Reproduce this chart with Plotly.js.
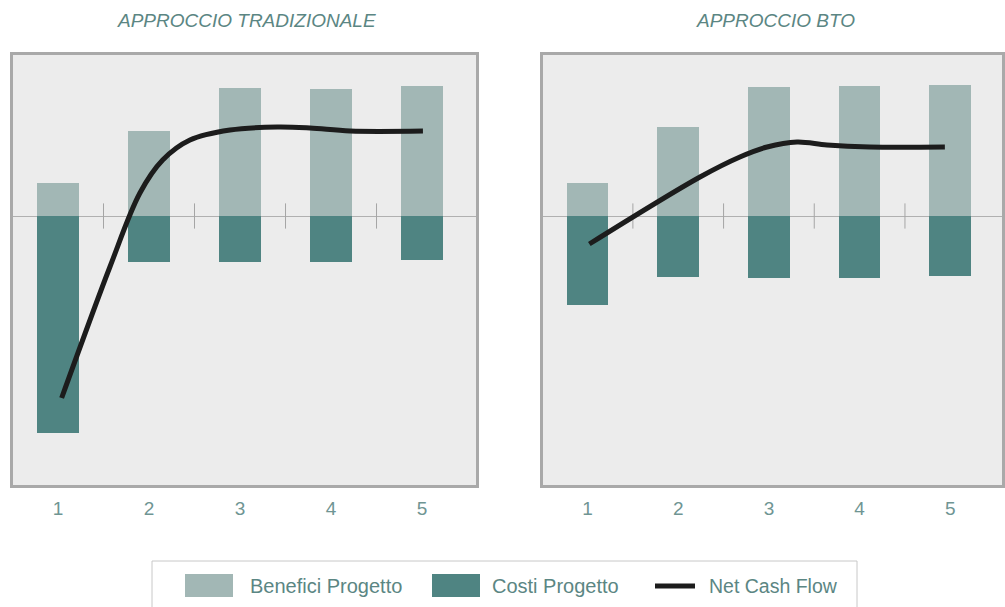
<!DOCTYPE html>
<html>
<head>
<meta charset="utf-8">
<script src="https://cdn.plot.ly/plotly-3.0.1.min.js"></script>
<style>
html,body{margin:0;padding:0;background:#fff;}
#chart{width:1005px;height:607px;}
</style>
</head>
<body>
<div id="chart"></div>
<script>
// ---- Data ----
var years = [1, 2, 3, 4, 5];
var tickLabels = ['1', '2', '3', '4', '5'];
var panelTitles = ['APPROCCIO TRADIZIONALE', 'APPROCCIO BTO'];
var seriesNames = ['Benefici Progetto', 'Costi Progetto', 'Net Cash Flow'];

var tradBenefici = [3.3, 8.5, 12.8, 12.7, 13.0];
var tradCosti = [-21.7, -4.6, -4.6, -4.6, -4.4];
var tradNetX = [1.04, 1.57, 1.90, 2.15, 2.45, 2.89, 3.41, 3.77, 4.21, 5.01];
var tradNetY = [-18.2, -5.1, 2.3, 5.6, 7.6, 8.6, 8.9, 8.8, 8.5, 8.5];

var btoBenefici = [3.3, 8.9, 12.9, 13.0, 13.1];
var btoCosti = [-8.9, -6.1, -6.2, -6.2, -6.0];
var btoNetX = [1.02, 2.24, 2.68, 2.98, 3.31, 3.64, 4.11, 4.94];
var btoNetY = [-2.8, 3.9, 5.9, 6.9, 7.4, 7.1, 6.9, 6.9];

var dividers = [1.5, 2.5, 3.5, 4.5];
var dividerY = [0, 0, 0, 0];

// ---- Style ----
var cBen = '#a2b7b5', cCost = '#4f8482', cLine = '#1c1c1c';
var cText = '#5b8683';
var FONT = '"Liberation Sans Narrow", "Liberation Sans", Arial, sans-serif';

function panel(ben, cost, nx, ny, xa, ya) {
  return [
    {type:'bar', x: years, y: ben, xaxis: xa, yaxis: ya, marker:{color:cBen}, width:0.46, showlegend:false, name: seriesNames[0]},
    {type:'bar', x: years, y: cost, xaxis: xa, yaxis: ya, marker:{color:cCost}, width:0.46, showlegend:false, name: seriesNames[1]},
    {type:'scatter', mode:'markers', x: dividers, y: dividerY, xaxis: xa, yaxis: ya, showlegend:false, hoverinfo:'skip',
     marker:{symbol:'line-ns', size:18, line:{color:'#a5a5a5', width:1}}},
    {type:'scatter', mode:'lines', x: nx, y: ny, xaxis: xa, yaxis: ya, showlegend:false, name: seriesNames[2],
     line:{color:cLine, width:5, shape:'spline', smoothing:1}}
  ];
}

var data = panel(tradBenefici, tradCosti, tradNetX, tradNetY, 'x', 'y')
  .concat(panel(btoBenefici, btoCosti, btoNetX, btoNetY, 'x2', 'y2'));

var ML = 13, MR = 3, MT = 55, MB = 122;
var W = 1005 - ML - MR, H = 607 - MT - MB;
function px(x){ return (x - ML) / W; }
function py(y){ return (607 - MB - y) / H; }

function xaxis(domain, range){
  return {domain: domain, range: range, showgrid:false, zeroline:false,
    tickmode:'array', tickvals: years, ticktext: tickLabels,
    ticks:'outside', ticklen:4, tickcolor:'rgba(0,0,0,0)',
    showline:true, linecolor:'#a9a9a9', linewidth:3, mirror:true,
    tickfont:{family:FONT, size:19, color:'#6f9593'}, fixedrange:true};
}
function yaxis(anchor){
  return {range:[-26.9, 16.1], showgrid:false, showticklabels:false, ticks:'',
    zeroline:true, zerolinecolor:'#b0b0b0', zerolinewidth:1, anchor: anchor,
    showline:true, linecolor:'#a9a9a9', linewidth:3, mirror:true, fixedrange:true};
}

var layout = {
  width:1005, height:607,
  margin:{l:ML, r:MR, t:MT, b:MB, pad:0},
  paper_bgcolor:'#ffffff', plot_bgcolor:'#ececec',
  barmode:'relative', bargap:0,
  showlegend:false,
  xaxis: xaxis([0, px(476)], [0.5055, 5.593]),
  yaxis: yaxis('x'),
  xaxis2: xaxis([px(543), 1], [0.509, 5.570]),
  yaxis2: yaxis('x2'),
  annotations:[
    {text: panelTitles[0], xref:'paper', yref:'paper', x: px(246), y: py(21), showarrow:false,
     xanchor:'center', yanchor:'middle', font:{family:FONT, size:19, color:cText, style:'italic'}},
    {text: panelTitles[1], xref:'paper', yref:'paper', x: px(775), y: py(21), showarrow:false,
     xanchor:'center', yanchor:'middle', font:{family:FONT, size:19, color:cText, style:'italic'}},
    {text: seriesNames[0], xref:'paper', yref:'paper', x: px(248), y: py(586), showarrow:false,
     xanchor:'left', yanchor:'middle', font:{family:FONT, size:20, color:cText}},
    {text: seriesNames[1], xref:'paper', yref:'paper', x: px(490), y: py(586), showarrow:false,
     xanchor:'left', yanchor:'middle', font:{family:FONT, size:20, color:cText}},
    {text: seriesNames[2], xref:'paper', yref:'paper', x: px(707), y: py(586), showarrow:false,
     xanchor:'left', yanchor:'middle', font:{family:FONT, size:19.5, color:cText}}
  ],
  shapes:[
    {type:'rect', xref:'paper', yref:'paper', x0:px(152), x1:px(857), y0:py(561), y1:py(612),
     line:{color:'#c8c8c8', width:1}, fillcolor:'#ffffff', layer:'below'},
    {type:'rect', xref:'paper', yref:'paper', x0:px(185), x1:px(233), y0:py(574), y1:py(597),
     line:{width:0}, fillcolor:cBen},
    {type:'rect', xref:'paper', yref:'paper', x0:px(432), x1:px(480), y0:py(574), y1:py(597),
     line:{width:0}, fillcolor:cCost},
    {type:'line', xref:'paper', yref:'paper', x0:px(655), x1:px(695), y0:py(586), y1:py(586),
     line:{color:cLine, width:5}}
  ]
};

Plotly.newPlot('chart', data, layout, {displayModeBar:false, staticPlot:true});
</script>
</body>
</html>
